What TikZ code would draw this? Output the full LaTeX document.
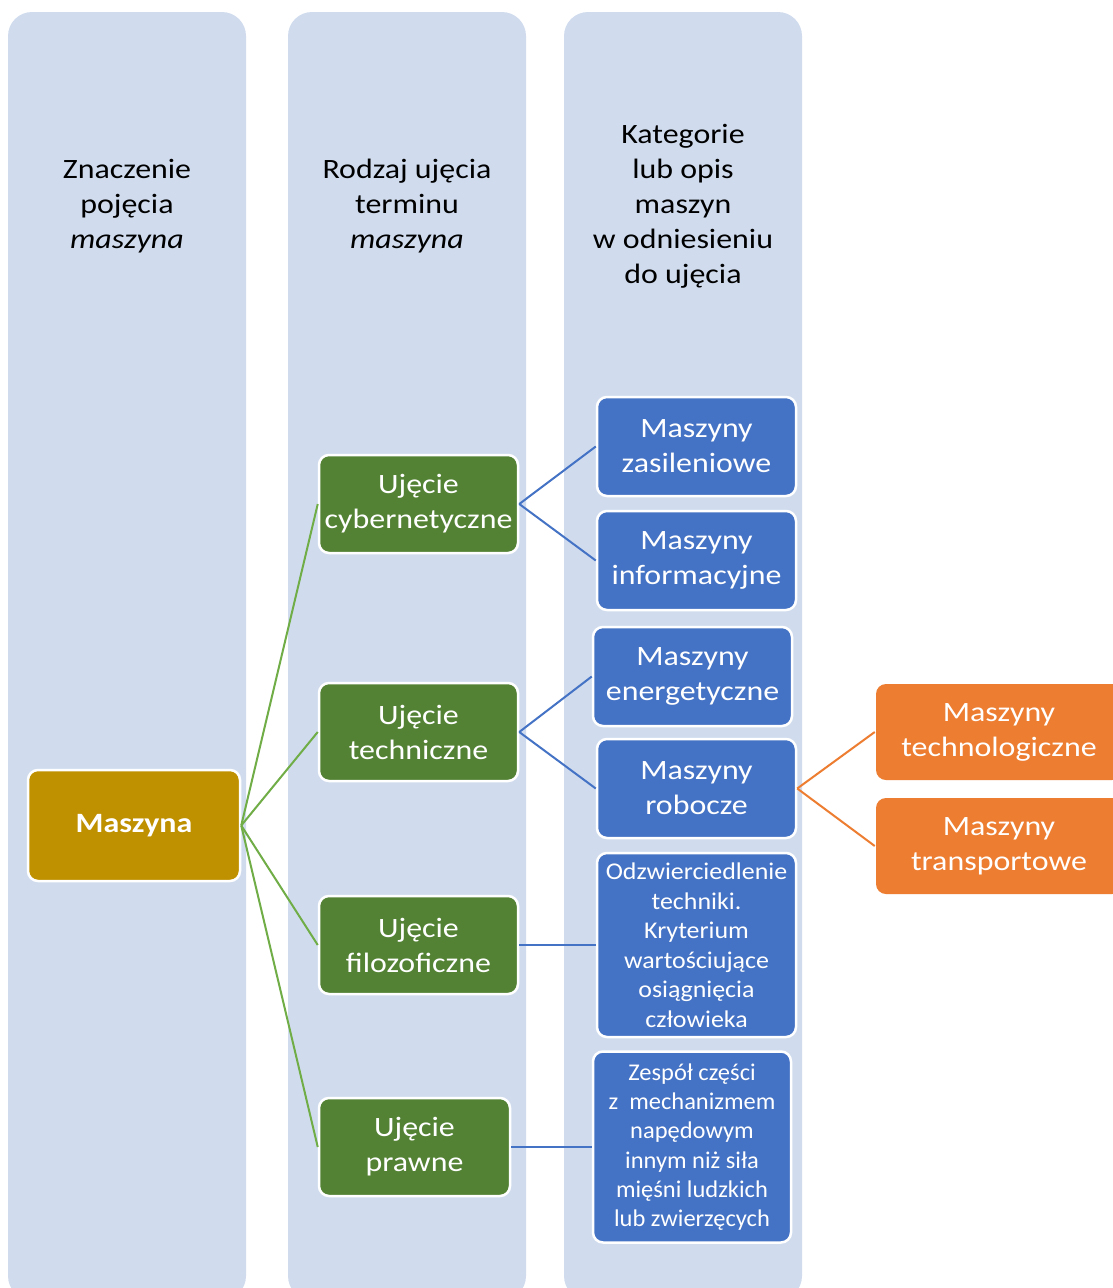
\documentclass[tikz,border=0pt]{standalone}
\usepackage{fontspec}
\setmainfont{Carlito}[FakeStretch=1.14]
\newfontfamily\midfont[FakeStretch=1.08]{Carlito}
\newfontfamily\narrowfont[FakeStretch=1.02]{Carlito}
\definecolor{laneblue}{HTML}{D0DCEE}
\definecolor{boxgold}{HTML}{BF9000}
\definecolor{boxgreen}{HTML}{548235}
\definecolor{boxblue}{HTML}{4472C4}
\definecolor{boxorange}{HTML}{ED7D31}
\definecolor{linegreen}{HTML}{70AD47}
\definecolor{lineblue}{HTML}{4472C4}
\definecolor{lineorange}{HTML}{ED7D31}
\tikzset{
  lane/.style={fill=laneblue, rounded corners=24pt},
  headtext/.style={align=center, font=\fontsize{28}{35}\selectfont, text=black},
  card/.style={rectangle, rounded corners=10pt, draw=white, line width=2.5pt,
    text=white, align=center, inner sep=2pt, font=\fontsize{28}{35}\selectfont},
  goldcard/.style={card, fill=boxgold, font=\fontsize{28}{35}\selectfont\bfseries},
  greencard/.style={card, fill=boxgreen, minimum height=98pt},
  bluecard/.style={card, fill=boxblue, minimum height=99pt},
  smallblue/.style={card, fill=boxblue, font=\fontsize{24}{29.5}\midfont},
  orangecard/.style={card, fill=boxorange, draw=none, minimum height=96pt},
  gline/.style={draw=linegreen, line width=2pt},
  bline/.style={draw=lineblue, line width=2pt},
  oline/.style={draw=lineorange, line width=2pt},
}
\begin{document}
\begin{tikzpicture}[x=1pt, y=-1pt]
  \clip (0,0) rectangle (1113,1288);
  \useasboundingbox (0,0) rectangle (1113,1288);
  \fill[white] (0,0) rectangle (1113,1288);

  % background lanes
  \fill[lane] (8,12) rectangle (246,1300);
  \fill[lane] (288,12) rectangle (526,1300);
  \fill[lane] (564,12) rectangle (802,1300);

  % lane headings
  \node[headtext] (hd1) at (127,206) {Znaczenie\\pojęcia\\\textit{maszyna}};
  \node[headtext] (hd2) at (407,206) {Rodzaj ujęcia\\terminu\\\textit{maszyna}};
  \node[headtext] (hd3) at (683,206) {Kategorie\\lub opis\\maszyn\\w odniesieniu\\do ujęcia};

  % root
  \node[goldcard, minimum width=212pt, minimum height=111pt] (mas) at (134,825.5) {Maszyna};

  % kinds of approach
  \node[greencard, minimum width=199pt] (cyb) at (418.5,504) {Ujęcie\\cybernetyczne};
  \node[greencard, minimum width=199pt] (tech) at (418.5,732) {Ujęcie\\techniczne};
  \node[greencard, minimum width=199pt] (filo) at (418.5,945) {Ujęcie\\filozoficzne};
  \node[greencard, minimum width=191pt] (praw) at (414.5,1147) {Ujęcie\\prawne};

  % categories
  \node[bluecard, minimum width=199pt] (zas) at (696.5,446.5) {Maszyny\\zasileniowe};
  \node[bluecard, minimum width=199pt] (inf) at (696.5,560.5) {Maszyny\\informacyjne};
  \node[bluecard, minimum width=199pt] (ene) at (692.5,676.5) {Maszyny\\energetyczne};
  \node[bluecard, minimum width=199pt] (rob) at (696.5,788.5) {Maszyny\\robocze};
  \node[smallblue, minimum width=199pt, minimum height=184pt] (odz) at (696.5,945)
    {Odzwierciedlenie\\techniki.\\Kryterium\\wartościujące\\osiągnięcia\\człowieka};
  \node[smallblue, minimum width=198pt, minimum height=191pt, font=\fontsize{24}{29.2}\narrowfont] (zes) at (692,1147)
    {Zespół części\\z~~mechanizmem\\napędowym\\innym niż siła\\mięśni ludzkich\\lub zwierzęcych};

  % working machines subdivision
  \node[orangecard, minimum width=246pt] (tgl) at (999,732) {Maszyny\\technologiczne};
  \node[orangecard, minimum width=246pt] (trn) at (999,846) {Maszyny\\transportowe};

  % connectors
  \foreach \t in {cyb,tech,filo,praw} \draw[gline] (mas.east) -- (\t.west);
  \draw[bline] (cyb.east) -- (zas.west);
  \draw[bline] (cyb.east) -- (inf.west);
  \draw[bline] (tech.east) -- (ene.west);
  \draw[bline] (tech.east) -- (rob.west);
  \draw[bline] (filo.east) -- (odz.west);
  \draw[bline] (praw.east) -- (zes.west);
  \draw[oline] (rob.east) -- (tgl.west);
  \draw[oline] (rob.east) -- (trn.west);
\end{tikzpicture}
\end{document}
